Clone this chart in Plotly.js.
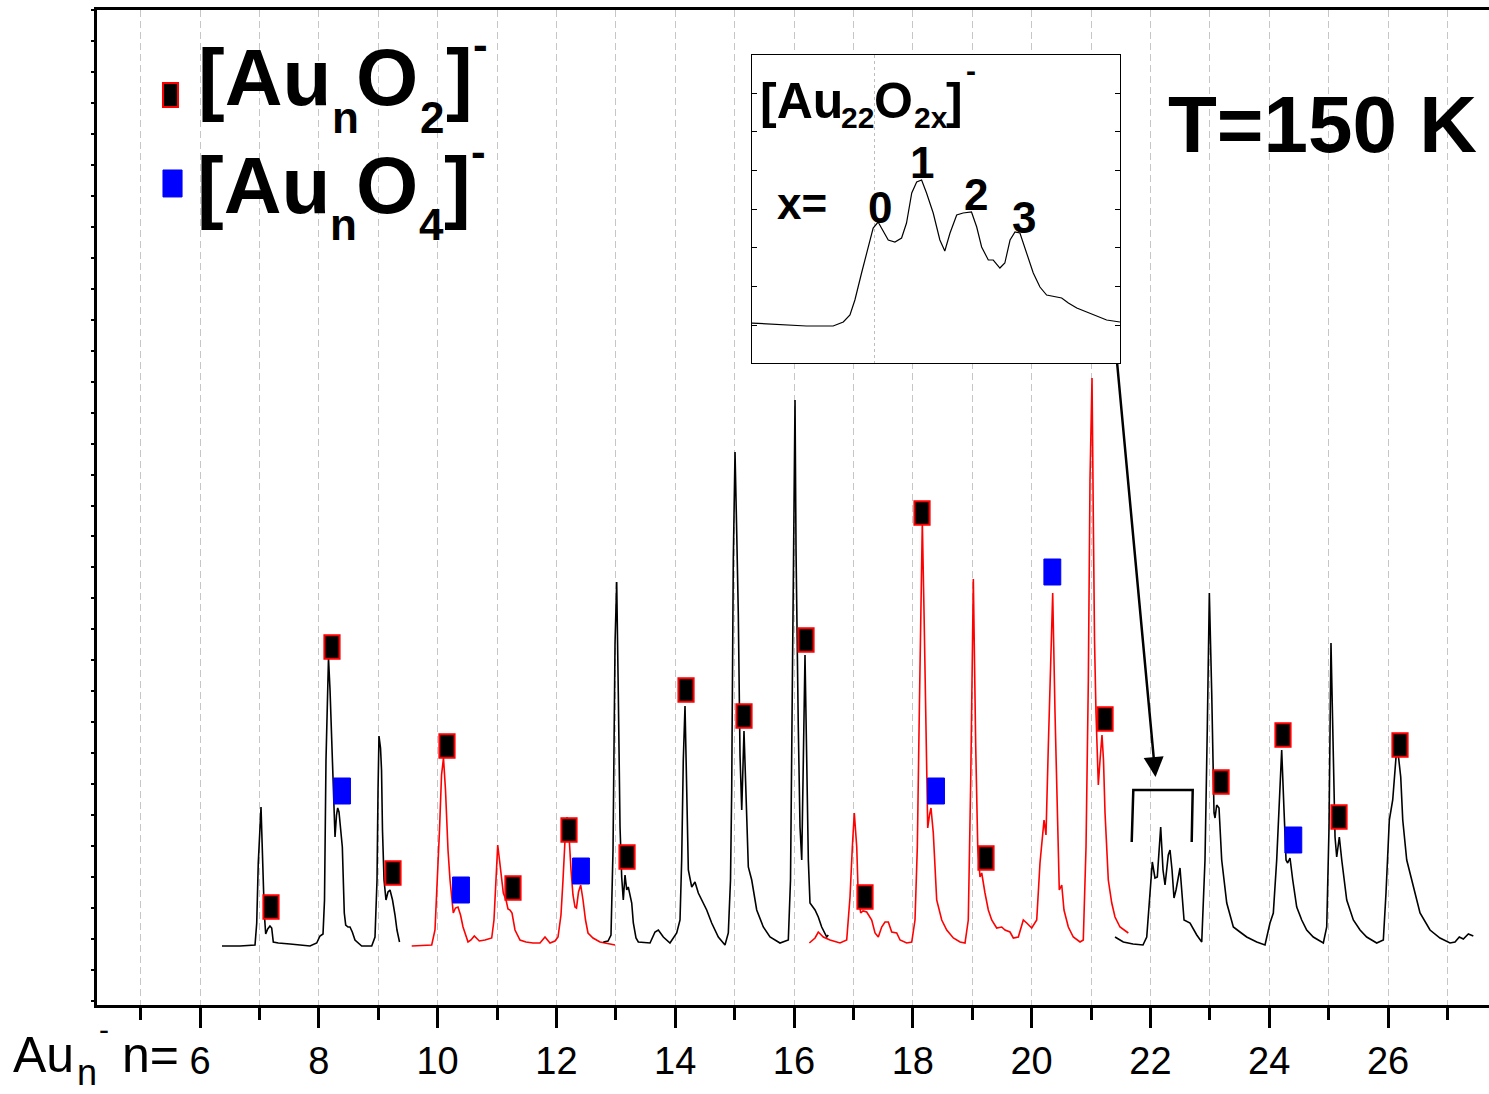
<!DOCTYPE html>
<html><head><meta charset="utf-8">
<script src="https://cdn.plot.ly/plotly-3.0.1.min.js"></script>
<style>html,body{margin:0;padding:0;background:#fff;}#chart{width:1489px;height:1094px;}</style>
</head><body><div id="chart"></div>
<script>
// ---- spectrum segments (cluster size n, intensity a.u.) ----
const seg1N = [6.370,6.673,6.926,6.955,6.981,7.027,7.056,7.082,7.106,7.140,7.178,7.207,7.234,7.318,7.515,7.852,7.965,8.020,8.071,8.096,8.121,8.146,8.163,8.189,8.222,8.247,8.273,8.298,8.318,8.340,8.357,8.396,8.429,8.453,8.492,8.525,8.564,8.609,8.722,8.891,8.946,8.980,8.997,9.013,9.039,9.056,9.072,9.098,9.131,9.165,9.199,9.241,9.283,9.316,9.359];
const seg1I = [59,59,60,82,142,198,142,92,71,76,79,77,63,62,61,59,62,69,71,105,245,325,347,315,255,215,168,190,197,193,182,158,92,80,78,78,73,65,59,59,68,125,215,269,257,235,175,125,105,113,115,105,90,75,63];

const seg2N = [9.564,9.901,9.956,9.995,10.032,10.066,10.099,10.133,10.175,10.209,10.242,10.264,10.301,10.343,10.386,10.428,10.512,10.562,10.618,10.663,10.702,10.798,10.911,10.949,10.983,11.012,11.042,11.076,11.106,11.152,11.185,11.219,11.253,11.303,11.387,11.488,11.606,11.724,11.808,11.892,11.976,12.027,12.077,12.111,12.145,12.178,12.212,12.246,12.279,12.313,12.338,12.372,12.409,12.448,12.490,12.532,12.616,12.734,12.869,12.987];
const seg2I = [59,60,75,122,175,230,247,215,155,125,100,92,97,98,90,78,63,65,69,66,64,65,67,85,135,160,145,125,112,105,96,95,92,75,65,63,62,62,68,62,64,68,90,125,165,188,170,135,110,98,97,113,120,105,85,72,67,63,61,60];

const seg3N = [12.790,12.869,12.919,12.953,12.987,13.015,13.042,13.071,13.099,13.126,13.155,13.184,13.210,13.239,13.268,13.295,13.340,13.379,13.576,13.660,13.716,13.800,13.912,14.025,14.081,14.109,14.136,14.165,14.194,14.221,14.278,14.333,14.389,14.446,14.530,14.614,14.726,14.838,14.894,14.931,14.951,14.978,15.007,15.035,15.062,15.091,15.120,15.158,15.204,15.231,15.288,15.372,15.483,15.596,15.764,15.904,15.941,15.971,15.992,16.017,16.034,16.059,16.072,16.101,16.130,16.157,16.185,16.214,16.241,16.269,16.354,16.409,16.466,16.551,16.577];
const seg3I = [63,64,70,155,362,423,312,178,128,105,130,115,118,110,102,82,67,63,62,73,75,68,62,72,85,145,245,299,212,135,118,123,112,105,95,82,68,60,72,125,215,445,553,474,392,250,195,274,195,138,125,95,78,68,62,65,125,325,485,605,455,325,278,178,145,245,350,245,145,102,95,88,78,68,70];

const seg4N = [16.258,16.354,16.409,16.493,16.606,16.774,16.887,16.943,16.982,17.015,17.056,17.082,17.123,17.162,17.224,17.308,17.364,17.419,17.476,17.532,17.588,17.645,17.729,17.785,17.897,17.982,18.037,18.076,18.109,18.138,18.160,18.189,18.222,18.251,18.281,18.306,18.345,18.402,18.487,18.571,18.682,18.795,18.879,18.934,18.975,19.019,19.059,19.093,19.131,19.160,19.215,19.271,19.328,19.412,19.497,19.552,19.636,19.692,19.776,19.860,19.918,20.002,20.086,20.141,20.209,20.242,20.281,20.322,20.355,20.394,20.433,20.466,20.507,20.545,20.618,20.702,20.815,20.870,20.916,20.955,20.983,21.017,21.039,21.059,21.084,21.123,21.152,21.185,21.210,21.236,21.291,21.349,21.404,21.488,21.628];
const seg4I = [62,67,73,68,65,62,65,108,158,192,158,108,92,94,93,85,72,68,78,83,83,73,72,65,62,63,85,158,292,425,483,392,258,177,190,197,172,105,85,75,67,63,62,85,225,426,258,158,128,132,112,95,85,77,78,75,73,67,68,85,82,77,85,142,185,170,258,358,412,292,192,115,120,95,78,68,63,65,158,325,525,627,485,365,292,220,245,270,245,192,125,102,88,78,72];

const seg5N = [21.404,21.544,21.707,21.875,21.938,21.993,22.032,22.077,22.116,22.173,22.212,22.246,22.301,22.330,22.364,22.397,22.431,22.498,22.532,22.566,22.667,22.780,22.864,22.919,22.958,22.992,23.032,23.071,23.088,23.116,23.155,23.200,23.285,23.396,23.508,23.621,23.790,23.929,24.013,24.069,24.126,24.170,24.210,24.249,24.283,24.311,24.350,24.396,24.463,24.547,24.631,24.742,24.911,24.968,25.007,25.040,25.079,25.108,25.136,25.180,25.221,25.305,25.416,25.529,25.641,25.810,25.921,25.966,26.022,26.079,26.135,26.173,26.214,26.248,26.315,26.399,26.539,26.707,26.875,27.044,27.128,27.200,27.268,27.352,27.436];
const seg5I = [68,63,61,60,68,112,143,127,128,178,135,120,150,155,135,107,115,137,110,85,82,70,63,145,278,412,312,192,187,200,197,145,102,78,73,68,63,60,82,92,145,212,255,195,145,142,147,125,98,85,75,68,62,78,178,362,245,168,148,168,145,105,85,75,68,62,65,112,185,205,248,250,228,185,145,125,92,75,67,62,63,68,66,71,69];

// ---- inset: Au22 cluster, zoomed ----
const insetN = [21.575,21.684,21.764,21.856,21.891,21.914,21.931,21.954,21.977,21.994,22.011,22.029,22.046,22.069,22.092,22.109,22.127,22.144,22.161,22.178,22.201,22.224,22.241,22.259,22.282,22.304,22.333,22.351,22.368,22.391,22.408,22.431,22.448,22.466,22.483,22.500,22.523,22.546,22.569,22.592,22.644,22.667,22.696,22.741,22.799,22.845];
const insetI = [40,38,37,37,41,48,63,90,116,135,141,131,123,121,125,140,170,181,183,170,150,123,112,130,148,150,151,136,116,103,103,95,100,123,131,130,110,90,76,68,65,60,55,50,43,41];
const insetLabels = ['0','1','2','3'];

// ---- peak assignment markers ----
const o2N = [7.195,8.222,9.249,10.158,11.269,12.212,13.189,14.182,15.158,16.202,17.195,18.155,19.232,21.236,23.189,24.232,25.175,26.202];
const o2I = [98,358,132,259,117,175,148,315,289,365,108,492,147,286,223,270,188,260];
const o4N = [8.391,10.394,12.414,18.391,20.349,24.406];
const o4I = [214,115,134,214,433,165];

// ---- styling / layout ----
const FONT = 'Liberation Sans, Arial, sans-serif';
const xRange = [4.266, 27.700], yRange = [0, 995];
const insetDomX = [0.4705, 0.7349], insetDomY = [0.6452, 0.9548];
const insetXRange = [21.576, 22.845], insetYRange = [0, 308];
const GRID = '#c6c6c6', DASH = '7px,4px';

const segs = [[seg1N,seg1I,'#000000'],[seg2N,seg2I,'#ff0000'],[seg3N,seg3I,'#000000'],[seg4N,seg4I,'#ff0000'],[seg5N,seg5I,'#000000']];
const data = segs.map(s => ({x:s[0], y:s[1], type:'scatter', mode:'lines', line:{color:s[2], width:1.6}, hoverinfo:'skip', showlegend:false}));
data.push({x:insetN, y:insetI, xaxis:'x2', yaxis:'y2', type:'scatter', mode:'lines', line:{color:'#000', width:1.2}, hoverinfo:'skip', showlegend:false});

const shapes = [];
const bx0 = xRange[0] + insetDomX[0]*(xRange[1]-xRange[0]);
const bx1 = xRange[0] + insetDomX[1]*(xRange[1]-xRange[0]);
const by0 = yRange[0] + insetDomY[0]*(yRange[1]-yRange[0]);
const by1 = yRange[0] + insetDomY[1]*(yRange[1]-yRange[0]);
shapes.push({type:'rect', xref:'x', yref:'y', x0:bx0, x1:bx1, y0:by0, y1:by1, fillcolor:'#ffffff', line:{width:0}, layer:'between'});

const HW = 0.128, HH = 11.8, HWB = 0.142, HHB = 13;
o2N.forEach((n,i) => shapes.push({type:'rect', xref:'x', yref:'y', x0:n-HW, x1:n+HW, y0:o2I[i]-HH, y1:o2I[i]+HH, fillcolor:'#000000', line:{color:'#ff0000', width:2}, layer:'above'}));
o4N.forEach((n,i) => shapes.push({type:'rect', xref:'x', yref:'y', x0:n-HWB, x1:n+HWB, y0:o4I[i]-HHB, y1:o4I[i]+HHB, fillcolor:'#0000ff', line:{color:'#0000ff', width:1}, layer:'above'}));
shapes.push({type:'rect', xref:'paper', yref:'paper', x0:0.0474, x1:0.0582, y0:0.9025, y1:0.9266, fillcolor:'#000', line:{color:'#ff0000', width:2}});
shapes.push({type:'rect', xref:'paper', yref:'paper', x0:0.0474, x1:0.0611, y0:0.8121, y1:0.8392, fillcolor:'#0000ff', line:{color:'#0000ff', width:1}});
shapes.push({type:'path', xref:'x', yref:'y', path:'M 21.685,163 L 21.712,215 L 22.712,215 L 22.695,163', line:{color:'#000', width:2.5}});

// text pieces: [text, paperX(left), paperY(middle), size, bold]
function piece(t, x, y, size, bold, anchor) {
  return {xref:'paper', yref:'paper', x:x, y:y, xanchor:anchor||'left', yanchor:'middle', showarrow:false,
    text: bold ? '<b>'+t+'</b>' : t, font:{family:FONT, size:size, color:'#000'}, borderpad:0, borderwidth:0};
}
const annotations = [
  // legend line 1: [AunO2]-
  piece('[Au', 0.07256, 0.9324, 80, true), piece('n', 0.16882, 0.8917, 44, true),
  piece('O', 0.18606, 0.9324, 80, true), piece('2', 0.23204, 0.8917, 44, true),
  piece(']', 0.25072, 0.9324, 80, true), piece('-', 0.27011, 0.9658, 44, true),
  // legend line 2: [AunO4]-
  piece('[Au', 0.07184, 0.8238, 80, true), piece('n', 0.16739, 0.7841, 44, true),
  piece('O', 0.18606, 0.8238, 80, true), piece('4', 0.23132, 0.7841, 44, true),
  piece(']', 0.24928, 0.8238, 80, true), piece('-', 0.26868, 0.8573, 44, true),
  // temperature
  piece('T=150 K', 0.9914, 0.8854, 80, true, 'right'),
  // inset title [Au22O2x]-
  piece('[Au', 0.47629, 0.9088, 50, true), piece('22', 0.53448, 0.8919, 30, true),
  piece('O', 0.55819, 0.9088, 50, true), piece('2x', 0.58693, 0.8919, 30, true),
  piece(']', 0.60991, 0.9088, 50, true), piece('-', 0.62428, 0.9388, 30, true),
  // inset peak labels
  piece('x=', 0.5065, 0.8060, 44, true, 'center'),
  piece(insetLabels[0], 0.5625, 0.8020, 44, true, 'center'),
  piece(insetLabels[1], 0.5927, 0.8472, 44, true, 'center'),
  piece(insetLabels[2], 0.6315, 0.8141, 44, true, 'center'),
  piece(insetLabels[3], 0.6659, 0.7910, 44, true, 'center'),
  // axis label Au_n^- n=
  piece('Au', -0.0603, -0.0499, 50, false), piece('n', -0.01437, -0.0678, 36, false),
  piece('-', 0.00144, -0.0250, 30, false), piece('n=', 0.01796, -0.0499, 50, false),
  // arrow from inset to Au22 cluster
  {xref:'x', yref:'y', x:22.086, y:228, axref:'x', ayref:'y', ax:21.438, ay:643, text:'', showarrow:true, arrowhead:2, arrowsize:1.6, arrowwidth:2.5, arrowcolor:'#000', standoff:0, startstandoff:0}
];

const layout = {
  width:1489, height:1094,
  margin:{l:97, r:0, t:10, b:89, pad:0},
  paper_bgcolor:'#ffffff', plot_bgcolor:'#ffffff',
  showlegend:false,
  xaxis:{range:xRange, showline:true, linecolor:'#000', linewidth:3, mirror:true,
    tickmode:'linear', tick0:0, dtick:2, ticks:'outside', ticklen:20, tickwidth:3, tickcolor:'#000',
    showgrid:true, gridcolor:GRID, gridwidth:1, griddash:DASH, zeroline:false,
    minor:{tickmode:'linear', tick0:0, dtick:1, ticks:'outside', ticklen:12, tickwidth:3, tickcolor:'#000', showgrid:true, gridcolor:GRID, gridwidth:1, griddash:DASH},
    tickfont:{family:FONT, size:38, color:'#000'}, fixedrange:true},
  yaxis:{range:yRange, showline:true, linecolor:'#000', linewidth:3, mirror:false,
    tickmode:'linear', tick0:995, dtick:30.97, ticks:'outside', ticklen:3, tickwidth:2, tickcolor:'#000',
    showticklabels:false, showgrid:false, zeroline:false, fixedrange:true},
  xaxis2:{domain:insetDomX, range:insetXRange, anchor:'y2', showline:true, mirror:true, linecolor:'#000', linewidth:1,
    ticks:'', showticklabels:false, tickmode:'array', tickvals:[22], showgrid:true, gridcolor:'#bdbdbd', gridwidth:1, griddash:'3px,3px', zeroline:false, fixedrange:true},
  yaxis2:{domain:insetDomY, range:insetYRange, anchor:'x2', showline:true, mirror:'ticks', linecolor:'#000', linewidth:1,
    ticks:'inside', ticklen:5, tickwidth:1, tickcolor:'#000', tickmode:'linear', tick0:38, dtick:38.6,
    showticklabels:false, showgrid:false, zeroline:false, fixedrange:true},
  shapes:shapes, annotations:annotations
};
Plotly.newPlot('chart', data, layout, {staticPlot:true, displayModeBar:false});
</script></body></html>
